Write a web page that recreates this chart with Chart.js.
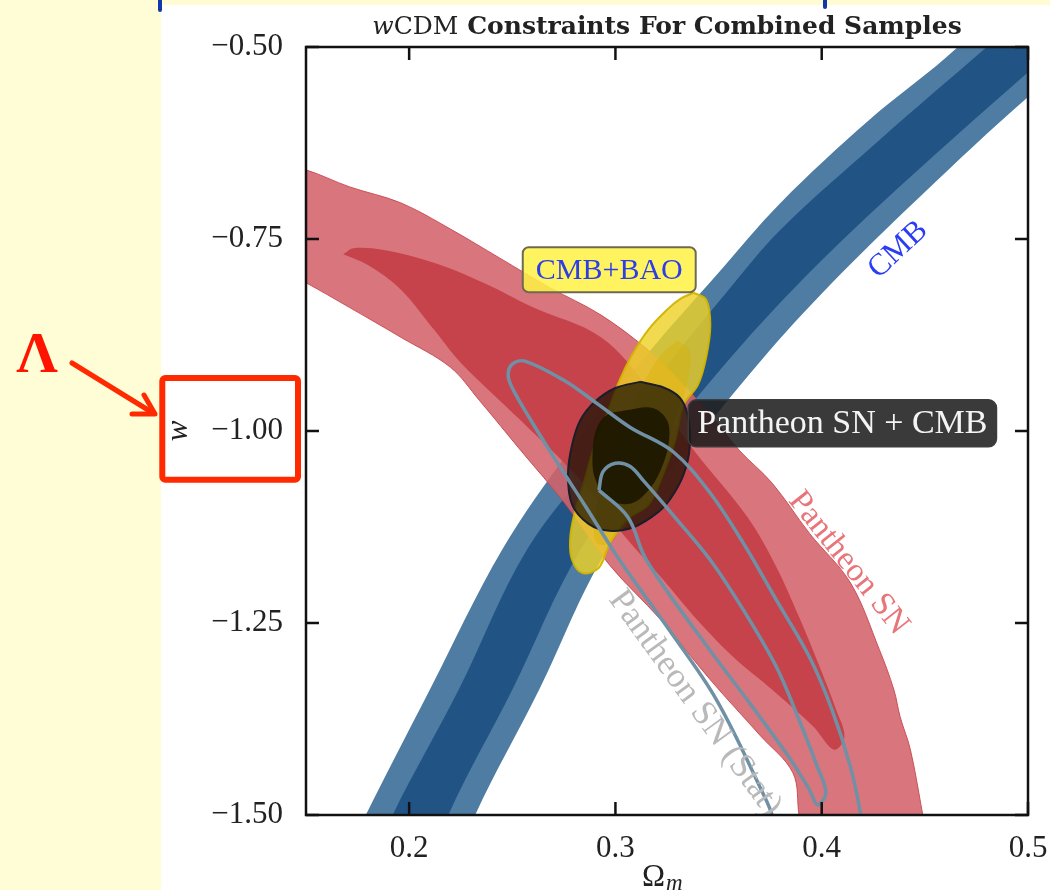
<!DOCTYPE html>
<html>
<head>
<meta charset="utf-8">
<script src="https://cdn.jsdelivr.net/npm/chart.js@4.4.1/dist/chart.umd.min.js"></script>
<style>
  html, body { margin: 0; padding: 0; background: #fff; }
  #wrap { position: relative; width: 1050px; height: 890px; overflow: hidden; background: #fff; }
  #sidebar { position: absolute; left: 0; top: 0; width: 161px; height: 890px; background: #fffdd6; }
  #topstrip { position: absolute; left: 161px; top: 0; width: 889px; height: 5px; background: #fffbd2; }
  .mark { position: absolute; top: 0; width: 4px; background: #1437a8; border-radius: 0 0 2px 2px; }
  #c, #overlay { position: absolute; left: 0; top: 0; }
  #overlay { pointer-events: none; }
</style>
</head>
<body>
<div id="wrap">
  <div id="sidebar"></div>
  <div id="topstrip"></div>
  <div class="mark" style="left:158px;height:12px"></div>
  <div class="mark" style="left:823px;height:9px"></div>
  <canvas id="c" width="1050" height="890"></canvas>
  <svg id="overlay" width="1050" height="890" viewBox="0 0 1050 890">
    <rect x="162.3" y="378" width="135.7" height="101.7" rx="3" fill="none" stroke="#ff2a00" stroke-width="6"/>
    <text x="37" y="372" text-anchor="middle" font-family="Liberation Serif, DejaVu Serif, serif" font-weight="bold" font-size="58" fill="#ff1400">Λ</text>
    <line x1="72" y1="363" x2="153" y2="413" stroke="#ff2a00" stroke-width="5" stroke-linecap="round"/>
    <polyline points="132,414 155,414 144,395" fill="none" stroke="#ff2a00" stroke-width="5" stroke-linecap="round" stroke-linejoin="round"/>
  </svg>
</div>
<script>
// Confidence regions in the (Ωm, w) plane, each outline given as [Ωm, w] vertices.
// CMB band (95% outer, 68% inner); runs off the plot at both ends.
const cmbOuter = [[0.171,-1.546],[0.179,-1.500],[0.210,-1.337],[0.245,-1.155],[0.278,-1.025],[0.317,-0.895],[0.349,-0.797],[0.380,-0.703],[0.423,-0.595],[0.466,-0.500],[0.491,-0.426],[0.535,-0.361],
                  [0.535,-0.491],[0.500,-0.565],[0.448,-0.694],[0.404,-0.810],[0.370,-0.910],[0.335,-1.025],[0.296,-1.155],[0.263,-1.337],[0.232,-1.500],[0.227,-1.546]];
const cmbInner = [[0.186,-1.546],[0.192,-1.500],[0.224,-1.337],[0.257,-1.155],[0.294,-1.025],[0.327,-0.908],[0.354,-0.819],[0.380,-0.738],[0.428,-0.621],[0.480,-0.500],[0.506,-0.439],[0.535,-0.387],
                  [0.535,-0.452],[0.500,-0.533],[0.428,-0.706],[0.387,-0.813],[0.354,-0.910],[0.319,-1.025],[0.283,-1.155],[0.250,-1.337],[0.219,-1.500],[0.215,-1.546]];
// Pantheon SN alone (systematics included)
const snOuter = [[0.137,-0.654],[0.150,-0.660],[0.171,-0.682],[0.196,-0.703],[0.220,-0.737],[0.244,-0.775],[0.268,-0.813],[0.293,-0.849],[0.317,-0.897],[0.331,-0.934],[0.346,-0.979],[0.360,-1.025],[0.376,-1.068],[0.394,-1.133],[0.414,-1.198],[0.428,-1.285],[0.435,-1.337],[0.438,-1.372],[0.443,-1.415],[0.449,-1.500],[0.452,-1.546],
                 [0.392,-1.546],[0.389,-1.500],[0.386,-1.445],[0.370,-1.396],[0.346,-1.324],[0.322,-1.246],[0.297,-1.174],[0.276,-1.096],[0.254,-1.025],[0.234,-0.960],[0.220,-0.917],[0.196,-0.878],[0.171,-0.839],[0.150,-0.807],[0.137,-0.790]];
const snInner = [[0.168,-0.770],[0.173,-0.762],[0.187,-0.764],[0.212,-0.781],[0.236,-0.807],[0.260,-0.839],[0.293,-0.878],[0.317,-0.947],[0.338,-1.025],[0.364,-1.112],[0.378,-1.177],[0.389,-1.242],[0.399,-1.307],[0.407,-1.363],[0.411,-1.398],[0.406,-1.415],
                 [0.396,-1.385],[0.376,-1.337],[0.357,-1.294],[0.341,-1.250],[0.322,-1.190],[0.306,-1.142],[0.283,-1.064],[0.254,-0.986],[0.225,-0.911],[0.212,-0.868],[0.196,-0.816],[0.180,-0.784]];
// CMB + BAO
const baoOuter = [[0.338,-0.820],[0.344,-0.829],[0.346,-0.862],[0.344,-0.904],[0.340,-0.940],[0.333,-0.966],[0.329,-1.012],[0.323,-1.057],[0.316,-1.096],[0.305,-1.116],[0.297,-1.148],[0.292,-1.178],[0.284,-1.185],[0.279,-1.168],[0.278,-1.142],[0.280,-1.109],[0.285,-1.064],[0.290,-1.018],[0.296,-0.977],[0.302,-0.934],[0.308,-0.901],[0.316,-0.868],[0.325,-0.842],[0.332,-0.827]];
const baoInner = [[0.330,-0.882],[0.336,-0.895],[0.335,-0.934],[0.329,-0.986],[0.319,-1.051],[0.307,-1.116],[0.295,-1.148],[0.290,-1.142],[0.291,-1.096],[0.297,-1.038],[0.305,-0.986],[0.313,-0.940],[0.322,-0.901]];
// Pantheon SN + CMB
const combOuter = [[0.312,-0.936],[0.323,-0.943],[0.331,-0.956],[0.335,-0.979],[0.336,-1.021],[0.333,-1.057],[0.327,-1.087],[0.321,-1.105],[0.309,-1.125],[0.297,-1.130],[0.287,-1.121],[0.279,-1.096],[0.277,-1.057],[0.279,-1.018],[0.283,-0.986],[0.290,-0.962],[0.300,-0.944]];
const combInner = [[0.305,-0.973],[0.318,-0.970],[0.325,-0.986],[0.326,-1.012],[0.323,-1.044],[0.317,-1.074],[0.308,-1.094],[0.297,-1.090],[0.290,-1.061],[0.289,-1.025],[0.291,-0.996],[0.296,-0.979]];
// Pantheon SN, statistical errors only (outlines); the outer one leaves through the bottom axis
const statOuter = [[0.380,-1.533],[0.376,-1.500],[0.373,-1.480],[0.349,-1.350],[0.325,-1.255],[0.302,-1.168],[0.285,-1.096],[0.272,-1.042],[0.259,-0.986],[0.250,-0.944],[0.248,-0.927],[0.250,-0.913],[0.256,-0.909],[0.275,-0.934],[0.291,-0.964],[0.307,-0.995],[0.328,-1.027],[0.346,-1.081],[0.362,-1.146],[0.378,-1.220],[0.394,-1.294],[0.405,-1.363],[0.414,-1.438],[0.419,-1.500],[0.421,-1.533]];
const statInner = [[0.292,-1.077],[0.294,-1.053],[0.300,-1.042],[0.307,-1.046],[0.314,-1.066],[0.330,-1.116],[0.346,-1.168],[0.362,-1.233],[0.378,-1.307],[0.389,-1.376],[0.398,-1.438],[0.402,-1.471],[0.398,-1.487],[0.394,-1.467],[0.385,-1.428],[0.365,-1.354],[0.341,-1.268],[0.315,-1.168],[0.306,-1.112]];

// Axes
const xTickValues = [0.2, 0.3, 0.4, 0.5];
const xTickLabels = ['0.2', '0.3', '0.4', '0.5'];
const yTickValues = [-0.5, -0.75, -1.0, -1.25, -1.5];
const yTickLabels = ['−0.50', '−0.75', '−1.00', '−1.25', '−1.50'];

// Text annotations placed in data space
const noteText = ['CMB+BAO', 'Pantheon SN + CMB', 'CMB', 'Pantheon SN', 'Pantheon SN (Stat)'];
const noteOm   = [0.297, 0.410, 0.437, 0.413, 0.300];
const noteW    = [-0.790, -0.990, -0.764, -1.172, -1.212];

const SERIF = "'Liberation Serif', 'DejaVu Serif', serif";

const pts = a => a.map(([x, y]) => ({ x, y }));
const loop = a => pts(a.concat([a[0]]));

// bottom-to-top stacking
const layers = [
  { data: loop(cmbOuter),  bg: '#4f7ca3', bc: 'rgba(0,0,0,0)', bw: 0, fill: 'shape' },
  { data: loop(cmbInner),  bg: '#215485', bc: 'rgba(0,0,0,0)', bw: 0, fill: 'shape' },
  { data: loop(snOuter),   bg: 'rgba(212,98,106,0.88)', bc: 'rgba(200,70,78,0.9)', bw: 1, fill: 'shape' },
  { data: loop(snInner),   bg: 'rgba(196,62,70,0.9)', bc: 'rgba(0,0,0,0)', bw: 0, fill: 'shape' },
  { data: loop(baoOuter),  bg: 'rgba(238,210,40,0.82)', bc: 'rgba(210,180,0,0.95)', bw: 2, fill: 'shape' },
  { data: loop(baoInner),  bg: 'rgba(214,178,10,0.45)', bc: 'rgba(0,0,0,0)', bw: 0, fill: 'shape' },
  { data: loop(combOuter), bg: 'rgba(22,16,2,0.72)', bc: '#1b1d2a', bw: 2, fill: 'shape' },
  { data: loop(combInner), bg: 'rgba(28,22,0,0.9)', bc: 'rgba(0,0,0,0)', bw: 0, fill: 'shape' },
  { data: pts(statOuter),  bg: 'rgba(0,0,0,0)', bc: '#7090a6', bw: 3.5, fill: false },
  { data: loop(statInner), bg: 'rgba(0,0,0,0)', bc: '#7090a6', bw: 3.5, fill: false }
];

const datasets = layers.map((l, i) => ({
  data: l.data,
  showLine: true,
  fill: l.fill,
  backgroundColor: l.bg,
  borderColor: l.bc,
  borderWidth: l.bw,
  pointRadius: 0,
  pointHoverRadius: 0,
  tension: 0.35,
  clip: 0,
  order: layers.length - i
}));

function roundRect(ctx, x, y, w, h, r) {
  ctx.beginPath();
  ctx.moveTo(x + r, y);
  ctx.lineTo(x + w - r, y);
  ctx.arcTo(x + w, y, x + w, y + r, r);
  ctx.lineTo(x + w, y + h - r);
  ctx.arcTo(x + w, y + h, x + w - r, y + h, r);
  ctx.lineTo(x + r, y + h);
  ctx.arcTo(x, y + h, x, y + h - r, r);
  ctx.lineTo(x, y + r);
  ctx.arcTo(x, y, x + r, y, r);
  ctx.closePath();
}

function boxLabel(ctx, text, cx, cy, o) {
  ctx.save();
  ctx.font = o.font;
  const w = ctx.measureText(text).width + 2 * o.padX;
  roundRect(ctx, cx - w / 2, cy - o.h / 2, w, o.h, o.r);
  ctx.fillStyle = o.fill;
  ctx.fill();
  ctx.lineWidth = o.lw;
  ctx.strokeStyle = o.stroke;
  ctx.stroke();
  ctx.fillStyle = o.color;
  ctx.textAlign = 'center';
  ctx.textBaseline = 'middle';
  ctx.fillText(text, cx, cy + 1);
  ctx.restore();
}

function rotText(ctx, text, px, py, deg, font, color, align) {
  ctx.save();
  ctx.translate(px, py);
  ctx.rotate(deg * Math.PI / 180);
  ctx.font = font;
  ctx.fillStyle = color;
  ctx.textAlign = align;
  ctx.textBaseline = 'middle';
  ctx.fillText(text, 0, 0);
  ctx.restore();
}

const decorations = {
  id: 'decorations',
  afterDatasetsDraw(chart) {
    const { ctx, chartArea: a, scales: { x, y } } = chart;
    const P = i => [x.getPixelForValue(noteOm[i]), y.getPixelForValue(noteW[i])];

    // rotated curve labels
    let [px, py] = P(2);
    rotText(ctx, noteText[2], px, py, -43, '31px ' + SERIF, '#2a3cf5', 'center');
    [px, py] = P(3);
    rotText(ctx, noteText[3], px, py, 51.5, '33px ' + SERIF, '#e8757a', 'center');
    ctx.save();
    ctx.beginPath();
    ctx.rect(a.left, a.top, a.right - a.left, a.bottom - a.top);
    ctx.clip();
    [px, py] = P(4);
    rotText(ctx, noteText[4], px, py, 54, '35px ' + SERIF, '#b9b9b9', 'left');
    ctx.restore();

    // boxed labels
    [px, py] = P(0);
    boxLabel(ctx, noteText[0], px, py, { font: '30px ' + SERIF, padX: 13, h: 45, r: 6,
      fill: 'rgba(255,242,70,0.86)', stroke: '#6e6a50', lw: 2, color: '#2e3ee6' });
    [px, py] = P(1);
    boxLabel(ctx, noteText[1], px, py, { font: '34px ' + SERIF, padX: 9, h: 47, r: 8,
      fill: 'rgba(26,26,26,0.86)', stroke: '#3c3c3c', lw: 1.5, color: '#f4f4f4' });

    // frame and inward ticks on all four sides
    ctx.save();
    ctx.strokeStyle = '#111';
    ctx.lineWidth = 2.5;
    ctx.strokeRect(a.left, a.top, a.right - a.left, a.bottom - a.top);
    ctx.beginPath();
    const T = 13;
    xTickValues.forEach(v => {
      const p = x.getPixelForValue(v);
      ctx.moveTo(p, a.bottom); ctx.lineTo(p, a.bottom - T);
      ctx.moveTo(p, a.top); ctx.lineTo(p, a.top + T);
    });
    yTickValues.forEach(v => {
      const p = y.getPixelForValue(v);
      ctx.moveTo(a.left, p); ctx.lineTo(a.left + T, p);
      ctx.moveTo(a.right, p); ctx.lineTo(a.right - T, p);
    });
    ctx.stroke();
    ctx.restore();
  },
  afterDraw(chart) {
    const { ctx, chartArea: a } = chart;
    ctx.save();
    ctx.fillStyle = '#222';
    ctx.textBaseline = 'alphabetic';
    ctx.textAlign = 'left';
    // title: italic w, upright CDM, bold remainder
    const parts = [
      ['italic 25px "DejaVu Serif", serif', 'w'],
      ['25px "DejaVu Serif", serif', 'CDM'],
      ['bold 25px "DejaVu Serif", serif', ' Constraints For Combined Samples']
    ];
    let total = 0;
    parts.forEach(([f, t]) => { ctx.font = f; total += ctx.measureText(t).width; });
    let tx = (a.left + a.right) / 2 - total / 2;
    parts.forEach(([f, t]) => { ctx.font = f; ctx.fillText(t, tx, 34); tx += ctx.measureText(t).width; });

    // x-axis title Ωm
    ctx.font = '31px ' + SERIF;
    const cx = (a.left + a.right) / 2;
    ctx.fillText('Ω', cx - 25, 886);
    const ow = ctx.measureText('Ω').width;
    ctx.font = 'italic 23px ' + SERIF;
    ctx.fillText('m', cx - 25 + ow + 1, 890);

    // y-axis title w
    ctx.translate(187, (a.top + a.bottom) / 2);
    ctx.rotate(-Math.PI / 2);
    ctx.textAlign = 'center';
    ctx.font = 'italic 31px ' + SERIF;
    ctx.fillText('w', 0, 0);
    ctx.restore();
  }
};

new Chart(document.getElementById('c'), {
  type: 'scatter',
  data: { datasets },
  options: {
    responsive: false,
    maintainAspectRatio: false,
    animation: false,
    devicePixelRatio: 1,
    events: [],
    layout: { padding: { top: 47, right: 22, left: 0, bottom: 0 } },
    elements: { line: { capBezierPoints: false } },
    plugins: { legend: { display: false }, tooltip: { enabled: false }, title: { display: false } },
    scales: {
      x: {
        type: 'linear', min: 0.15, max: 0.5,
        grid: { display: false, drawTicks: false },
        border: { display: false },
        afterBuildTicks: s => { s.ticks = xTickValues.map(v => ({ value: v })); },
        afterFit: s => { s.height = 75; s.paddingLeft = 0; s.paddingRight = 0; },
        ticks: {
          autoSkip: false, maxRotation: 0, minRotation: 0, padding: 15,
          color: '#222', font: { family: SERIF, size: 31 },
          callback: (v, i) => xTickLabels[i]
        }
      },
      y: {
        type: 'linear', min: -1.5, max: -0.5,
        grid: { display: false, drawTicks: false },
        border: { display: false },
        afterBuildTicks: s => { s.ticks = yTickValues.map(v => ({ value: v })); },
        afterFit: s => { s.width = 306; s.paddingTop = 0; s.paddingBottom = 0; },
        ticks: {
          autoSkip: false, padding: 23,
          color: '#222', font: { family: SERIF, size: 31 },
          callback: (v, i) => yTickLabels[i]
        }
      }
    }
  },
  plugins: [decorations]
});
</script>
</body>
</html>
